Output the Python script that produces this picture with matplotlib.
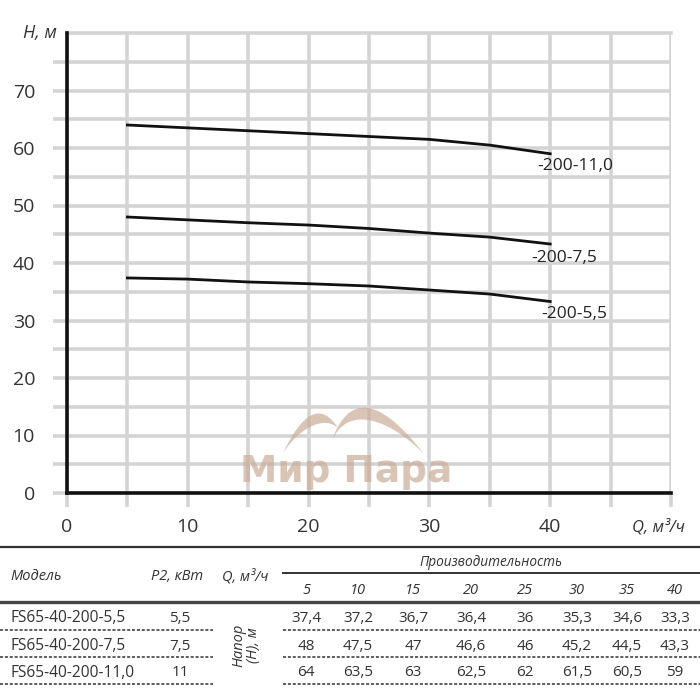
import numpy as np
import matplotlib
matplotlib.use("Agg")
from matplotlib import pyplot as plt
from matplotlib.lines import Line2D
from matplotlib.patches import Polygon

plt.rcParams['font.family'] = ['Open Sans', 'DejaVu Sans']

# data from the table
flow = [5, 10, 15, 20, 25, 30, 35, 40]
models = ['FS65-40-200-5,5', 'FS65-40-200-7,5', 'FS65-40-200-11,0']
p2 = ['5,5', '7,5', '11']
curve_labels = ['-200-5,5', '-200-7,5', '-200-11,0']
head_55 = [37.4, 37.2, 36.7, 36.4, 36, 35.3, 34.6, 33.3]
head_75 = [48, 47.5, 47, 46.6, 46, 45.2, 44.5, 43.3]
head_110 = [64, 63.5, 63, 62.5, 62, 61.5, 60.5, 59]
heads = [head_55, head_75, head_110]
label_offsets = [(17, -9), (10, -10), (18, -9)]  # points, from curve end

W = H = 700.0
def fx(x):
    return x / W
def fy(y):
    return 1 - y / H

grid_c = '#d4d4d4'
txt_c = '#333333'

fig = plt.figure(figsize=(7, 7), dpi=100)
ax = fig.add_axes([fx(67), fy(493), fx(671) - fx(67), fy(33) - fy(493)])
ax.set_xlim(0, 50)
ax.set_ylim(0, 80)

ax.set_xticks(range(0, 51, 10))
ax.set_xticklabels(['0', '10', '20', '30', '40', ''])
ax.set_xticks(range(5, 50, 10), minor=True)
ax.set_yticks(range(0, 71, 10))
ax.set_yticks(range(5, 80, 10), minor=True)
ax.grid(True, which='both', color=grid_c, lw=2.6, zorder=0)
ax.axhline(80, color=grid_c, lw=2.6, zorder=0, clip_on=False)
ax.tick_params(which='both', length=10, width=2.6, color=grid_c,
               labelsize=14, labelcolor=txt_c)
ax.tick_params(axis='y', pad=13)
ax.tick_params(axis='x', pad=8)
for s in ['top', 'right']:
    ax.spines[s].set_visible(False)
for s in ['left', 'bottom']:
    ax.spines[s].set_linewidth(2.6)
    ax.spines[s].set_color('#111111')
    ax.spines[s].set_zorder(3)
ax.set_axisbelow(True)

for h, lab, off in zip(heads, curve_labels, label_offsets):
    ax.plot(flow, h, color='#111111', lw=2, zorder=4)
    ax.annotate(lab, (flow[-1], h[-1]), xytext=off, textcoords='offset points',
                ha='center', va='center', fontsize=12.5, color='#222222')

ax.annotate('H, м', (0, 80), xytext=(-7, 0), textcoords='offset points',
            ha='right', va='center', fontsize=13, style='italic', color=txt_c,
            annotation_clip=False)
ax.annotate('Q, м³/ч', (50, 0), xytext=(-9, -25), textcoords='offset points',
            ha='center', va='center', fontsize=12, style='italic', color=txt_c,
            annotation_clip=False)

# watermark
wm = '#caac98'
fig.text(fx(346), fy(472), 'Мир Пара', ha='center', va='center',
         fontsize=27, fontweight='bold', family='DejaVu Sans', color=wm, alpha=0.7)

def crescent(x0, y0, x1, y1, xp, yp, thick):
    t = np.linspace(0, 1, 40)
    cx, cy = 2 * xp - (x0 + x1) / 2, 2 * yp - (y0 + y1) / 2
    bx = (1 - t) ** 2 * x0 + 2 * (1 - t) * t * cx + t ** 2 * x1
    by = (1 - t) ** 2 * y0 + 2 * (1 - t) * t * cy + t ** 2 * y1
    th = thick * np.sin(np.pi * t)
    outer = np.column_stack([fx(bx), fy(by)])
    inner = np.column_stack([fx(bx), fy(by + th)])[::-1]
    fig.patches.append(Polygon(np.vstack([outer, inner]), closed=True,
                               transform=fig.transFigure, color=wm, alpha=0.7, lw=0))

crescent(283, 453, 338, 428, 312, 415, 11)
crescent(332, 440, 424, 454, 368, 408, 12)

# table
def hline(y, x0, x1, lw=1.4, ls='-', c='#333333'):
    fig.add_artist(Line2D([fx(x0), fx(x1)], [fy(y), fy(y)], lw=lw, ls=ls, color=c))

hline(547, 0, 700, lw=1.6)
hline(573, 283, 700, lw=1.4)
hline(602, 0, 700, lw=2.4, c='#444444')
for y in [630, 657, 684]:
    hline(y, 0, 213, lw=1.1, ls=(0, (2, 1.2)))
    hline(y, 283, 700, lw=1.1, ls=(0, (2, 1.2)))

tfs = 10.5
fig.text(fx(10), fy(577), 'Модель', ha='left', va='center', fontsize=tfs,
         style='italic', color=txt_c)
fig.text(fx(177), fy(577), 'P2, кВт', ha='center', va='center', fontsize=tfs,
         style='italic', color=txt_c)
fig.text(fx(245), fy(577), 'Q, м³/ч', ha='center', va='center', fontsize=tfs,
         style='italic', color=txt_c)
fig.text(fx(491), fy(563), 'Производительность', ha='center', va='center',
         fontsize=9.8, style='italic', color=txt_c)
fig.text(fx(246), fy(645), 'Напор\n(Н), м', ha='center', va='center', fontsize=tfs,
         style='italic', color=txt_c, rotation=90, linespacing=1.0)

col_x = [306, 358, 413, 471, 525, 577, 627, 675]
for cx, q in zip(col_x, flow):
    fig.text(fx(cx), fy(591), str(q), ha='center', va='center', fontsize=tfs,
             style='italic', color=txt_c)

row_y = [618, 646, 673]
for ry, m, p, h in zip(row_y, models, p2, heads):
    fig.text(fx(10), fy(ry), m, ha='left', va='center', fontsize=11.2, color=txt_c)
    fig.text(fx(180), fy(ry), p, ha='center', va='center', fontsize=11, color=txt_c)
    for cx, v in zip(col_x, h):
        fig.text(fx(cx), fy(ry), f'{v:g}'.replace('.', ','), ha='center',
                 va='center', fontsize=11, color=txt_c)

fig.savefig('out.png', dpi=100, facecolor='white')
